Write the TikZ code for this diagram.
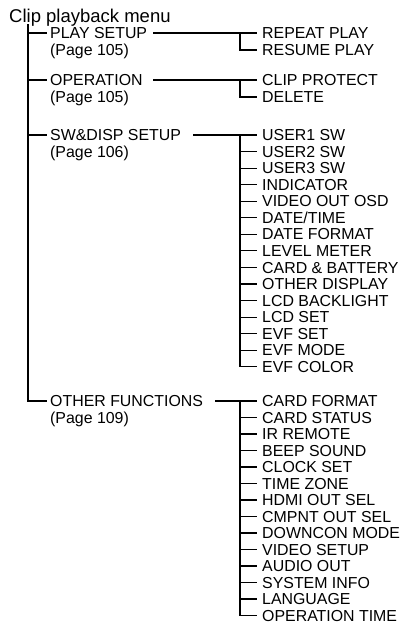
\documentclass[tikz,border=0pt]{standalone}
\usepackage{fontspec}
\setmainfont{Liberation Sans}
\begin{document}
\begin{tikzpicture}[x=1pt,y=-1pt,
  item/.style={anchor=west, inner sep=0pt, text height=11.2pt, text depth=0pt,
               font=\fontsize{15.9}{16.6}\selectfont},
  titlenode/.style={anchor=base west, inner sep=0pt, font=\fontsize{18.5}{20}\selectfont},
  ln/.style={line width=1.1pt, line cap=butt, line join=miter}]
\useasboundingbox (0,0) rectangle (402,624);

\node[titlenode] (title) at (9,22) {Clip playback menu};

% top-level entries
\node[item] (ps)  at (50,33)  {PLAY SETUP};
\node[item] (psp) at (50,50)  {(Page 105)};
\node[item] (op)  at (50,80)  {OPERATION};
\node[item] (opp) at (50,97)  {(Page 105)};
\node[item] (sw)  at (50,135) {SW\&DISP SETUP};
\node[item] (swp) at (50,152) {(Page 106)};
\node[item] (of)  at (50,401) {OTHER FUNCTIONS};
\node[item] (ofp) at (50,418) {(Page 109)};

% main trunk
\coordinate (mtop) at (28,24);
\draw[ln] (mtop) |- ([xshift=-3pt]of.west);
\foreach \n in {ps,op,sw}
  \draw[ln] (mtop |- \n.west) -- ([xshift=-3pt]\n.west);

% sub columns
\coordinate (vx) at (240,0);

% PLAY SETUP group
\node[item] (rp) at (262,33) {REPEAT PLAY};
\node[item] (rs) at (262,50) {RESUME PLAY};
\coordinate (psE) at (153,33);
\draw[ln] (psE) -- ([xshift=-5pt]rp.west);
\draw[ln] (vx |- rp.west) |- ([xshift=-5pt]rs.west);

% OPERATION group
\node[item] (cp) at (262,80) {CLIP PROTECT};
\node[item] (dl) at (262,97) {DELETE};
\coordinate (opE) at (153,80);
\draw[ln] (opE) -- ([xshift=-5pt]cp.west);
\draw[ln] (vx |- cp.west) |- ([xshift=-5pt]dl.west);

% SW&DISP SETUP group
\foreach \t [count=\i] in {USER1 SW,USER2 SW,USER3 SW,INDICATOR,VIDEO OUT OSD,{DATE/TIME},DATE FORMAT,LEVEL METER,CARD \& BATTERY,OTHER DISPLAY,LCD BACKLIGHT,LCD SET,EVF SET,EVF MODE,EVF COLOR}
  \node[item] (s\i) at (262,{135+16.55*(\i-1)}) {\t};
\coordinate (swE) at (193,135);
\draw[ln] (swE) -- ([xshift=-5pt]s1.west);
\draw[ln] (vx |- s1.west) |- ([xshift=-5pt]s15.west);
\foreach \i in {2,...,14}
  \draw[ln] (vx |- s\i.west) -- ([xshift=-5pt]s\i.west);

% OTHER FUNCTIONS group
\foreach \t [count=\i] in {CARD FORMAT,CARD STATUS,IR REMOTE,BEEP SOUND,CLOCK SET,TIME ZONE,HDMI OUT SEL,CMPNT OUT SEL,DOWNCON MODE,VIDEO SETUP,AUDIO OUT,SYSTEM INFO,LANGUAGE,OPERATION TIME}
  \node[item] (f\i) at (262,{401+16.5*(\i-1)}) {\t};
\coordinate (ofE) at (215,401);
\draw[ln] (ofE) -- ([xshift=-5pt]f1.west);
\draw[ln] (vx |- f1.west) |- ([xshift=-5pt]f14.west);
\foreach \i in {2,...,13}
  \draw[ln] (vx |- f\i.west) -- ([xshift=-5pt]f\i.west);
\end{tikzpicture}
\end{document}
